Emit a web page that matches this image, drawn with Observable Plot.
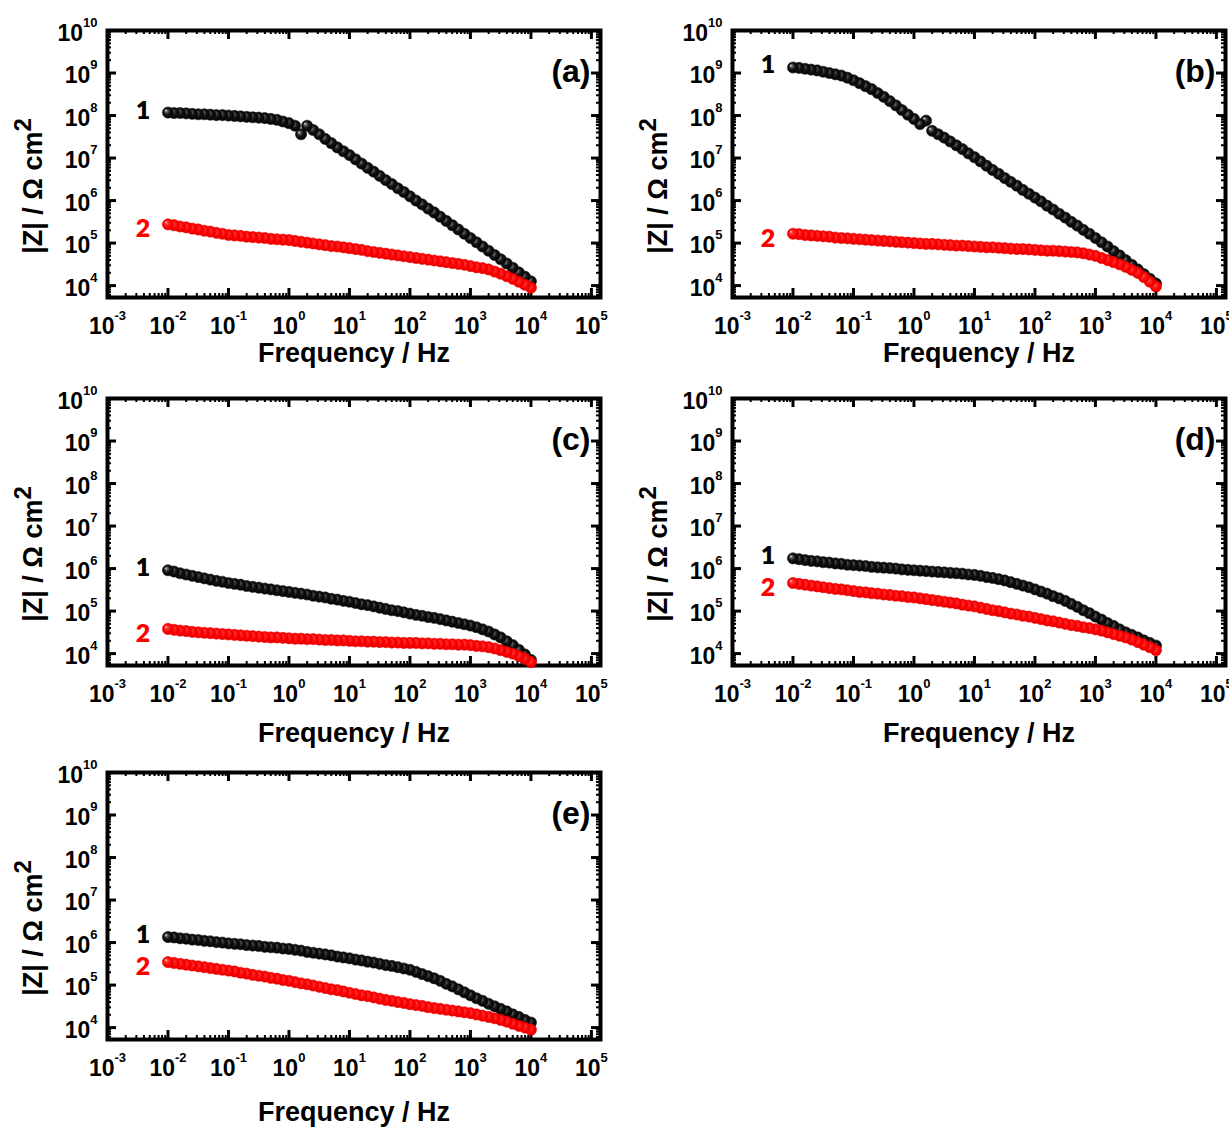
<!DOCTYPE html>
<html><head><meta charset="utf-8">
<script src="https://cdn.jsdelivr.net/npm/d3@7"></script>
<script src="https://cdn.jsdelivr.net/npm/@observablehq/plot@0.6"></script>
<style>
body{margin:0;background:#fff;overflow:hidden}
#root{position:relative;width:1229px;height:1127px;overflow:hidden;background:#fff}
.panel{position:absolute;width:620px}
.panel svg{max-width:none !important}
</style></head>
<body>
<div id="root">
<svg width="0" height="0" style="position:absolute">
<defs>
<radialGradient id="gBlack" cx="0.5" cy="0.5" r="0.5" fx="0.3" fy="0.3">
<stop offset="0" stop-color="#eeeeee"/>
<stop offset="0.22" stop-color="#6a6a6a"/>
<stop offset="0.55" stop-color="#151515"/>
<stop offset="1" stop-color="#000000"/>
</radialGradient>
<radialGradient id="gRed" cx="0.5" cy="0.5" r="0.5" fx="0.3" fy="0.3">
<stop offset="0" stop-color="#ffe0e0"/>
<stop offset="0.25" stop-color="#ff3a3a"/>
<stop offset="0.7" stop-color="#ff0000"/>
<stop offset="1" stop-color="#e00000"/>
</radialGradient>
</defs>
</svg>
</div>
<script>
// log10 of frequency (Hz)
const logF = [-2.0,-1.9,-1.8,-1.7,-1.6,-1.5,-1.4,-1.3,-1.2,-1.1,-1.0,-0.9,-0.8,-0.7,-0.6,-0.5,-0.4,-0.3,-0.2,-0.1,
  0.0,0.1,0.2,0.3,0.4,0.5,0.6,0.7,0.8,0.9,1.0,1.1,1.2,1.3,1.4,1.5,1.6,1.7,1.8,1.9,
  2.0,2.1,2.2,2.3,2.4,2.5,2.6,2.7,2.8,2.9,3.0,3.1,3.2,3.3,3.4,3.5,3.6,3.7,3.8,3.9,4.0];

// log10 |Z| (Ohm cm2), curve 1 (black) and curve 2 (red) of each panel
const a1 = [8.07,8.06,8.06,8.05,8.04,8.03,8.03,8.02,8.01,8.01,8.00,7.99,7.98,7.97,7.96,7.95,7.94,7.92,7.90,7.86,
  7.82,7.76,7.56,7.76,7.66,7.56,7.45,7.35,7.25,7.16,7.07,6.97,6.87,6.77,6.68,6.58,6.48,6.39,6.29,6.20,
  6.10,6.00,5.91,5.81,5.72,5.62,5.52,5.42,5.32,5.22,5.12,5.02,4.92,4.82,4.72,4.62,4.52,4.42,4.31,4.21,4.10];
const a2 = [5.44,5.42,5.39,5.37,5.34,5.32,5.29,5.27,5.24,5.22,5.19,5.18,5.17,5.15,5.14,5.13,5.12,5.10,5.09,5.08,
  5.07,5.05,5.03,5.01,4.99,4.97,4.95,4.93,4.92,4.90,4.88,4.86,4.84,4.81,4.79,4.77,4.75,4.73,4.71,4.69,
  4.67,4.65,4.63,4.61,4.59,4.57,4.55,4.53,4.51,4.49,4.46,4.43,4.41,4.38,4.33,4.28,4.22,4.16,4.09,4.02,3.95];
const b1 = [9.13,9.12,9.10,9.08,9.06,9.03,9.00,8.97,8.94,8.89,8.83,8.76,8.69,8.62,8.53,8.44,8.34,8.24,8.13,8.02,
  7.92,7.80,7.88,7.64,7.56,7.48,7.39,7.30,7.21,7.11,7.02,6.92,6.82,6.72,6.63,6.53,6.44,6.35,6.25,6.16,
  6.07,5.98,5.88,5.79,5.69,5.60,5.50,5.41,5.31,5.22,5.12,5.02,4.92,4.81,4.71,4.60,4.49,4.38,4.27,4.16,4.05];
const b2 = [5.22,5.21,5.19,5.18,5.17,5.16,5.15,5.13,5.12,5.11,5.10,5.09,5.08,5.07,5.06,5.05,5.04,5.03,5.02,5.01,
  5.00,4.99,4.98,4.98,4.97,4.96,4.95,4.94,4.94,4.93,4.92,4.91,4.90,4.90,4.89,4.88,4.87,4.86,4.86,4.85,
  4.84,4.83,4.82,4.82,4.81,4.80,4.79,4.78,4.76,4.73,4.70,4.65,4.60,4.55,4.50,4.44,4.37,4.30,4.20,4.09,3.98];
const c1 = [5.96,5.93,5.89,5.86,5.83,5.80,5.77,5.74,5.71,5.69,5.66,5.64,5.62,5.59,5.57,5.55,5.53,5.51,5.49,5.47,
  5.45,5.43,5.41,5.39,5.36,5.34,5.32,5.29,5.27,5.24,5.22,5.19,5.16,5.14,5.11,5.08,5.05,5.02,5.00,4.97,
  4.94,4.91,4.89,4.86,4.84,4.81,4.78,4.75,4.72,4.69,4.66,4.62,4.57,4.52,4.45,4.38,4.29,4.20,4.09,3.98,3.85];
const c2 = [4.58,4.56,4.54,4.53,4.51,4.50,4.49,4.48,4.47,4.46,4.45,4.44,4.43,4.42,4.41,4.40,4.39,4.38,4.38,4.37,
  4.36,4.35,4.35,4.34,4.34,4.33,4.32,4.32,4.31,4.31,4.30,4.29,4.29,4.28,4.28,4.27,4.27,4.26,4.26,4.25,
  4.25,4.25,4.24,4.24,4.23,4.23,4.22,4.22,4.21,4.21,4.20,4.18,4.17,4.15,4.12,4.08,4.04,4.00,3.94,3.88,3.80];
const d1 = [6.24,6.22,6.20,6.18,6.17,6.15,6.14,6.12,6.11,6.09,6.08,6.07,6.06,6.04,6.03,6.02,6.01,6.00,5.98,5.97,
  5.96,5.95,5.94,5.93,5.92,5.91,5.90,5.89,5.88,5.86,5.85,5.83,5.80,5.78,5.75,5.72,5.68,5.64,5.60,5.56,
  5.51,5.46,5.41,5.35,5.30,5.24,5.17,5.10,5.02,4.95,4.87,4.80,4.72,4.65,4.57,4.50,4.44,4.38,4.31,4.25,4.19];
const d2 = [5.66,5.64,5.62,5.60,5.58,5.56,5.54,5.52,5.51,5.49,5.47,5.45,5.44,5.42,5.41,5.39,5.38,5.36,5.35,5.33,
  5.32,5.30,5.28,5.26,5.24,5.22,5.20,5.18,5.15,5.13,5.11,5.08,5.05,5.02,5.00,4.97,4.94,4.92,4.89,4.87,
  4.84,4.81,4.78,4.76,4.73,4.70,4.67,4.65,4.62,4.60,4.57,4.54,4.50,4.46,4.42,4.38,4.33,4.27,4.21,4.15,4.08];
const e1 = [6.13,6.12,6.10,6.09,6.07,6.06,6.04,6.03,6.01,6.00,5.98,5.97,5.96,5.94,5.93,5.92,5.90,5.89,5.88,5.86,
  5.85,5.83,5.81,5.78,5.76,5.74,5.72,5.70,5.67,5.65,5.63,5.60,5.58,5.55,5.53,5.50,5.47,5.45,5.42,5.39,
  5.36,5.31,5.26,5.21,5.16,5.10,5.03,4.97,4.90,4.83,4.76,4.69,4.63,4.56,4.50,4.44,4.38,4.31,4.25,4.18,4.12];
const e2 = [5.54,5.52,5.50,5.48,5.46,5.44,5.42,5.40,5.38,5.36,5.34,5.32,5.29,5.27,5.24,5.22,5.20,5.17,5.15,5.12,
  5.10,5.07,5.04,5.02,4.99,4.96,4.93,4.90,4.88,4.85,4.82,4.79,4.76,4.74,4.71,4.68,4.65,4.63,4.60,4.58,
  4.55,4.53,4.51,4.48,4.46,4.44,4.42,4.40,4.38,4.36,4.34,4.31,4.28,4.25,4.22,4.18,4.14,4.09,4.04,4.00,3.95];

const xTickValues = [1e-3,1e-2,1e-1,1e0,1e1,1e2,1e3,1e4,1e5];
const xTickLabels = ["10^-3","10^-2","10^-1","10^0","10^1","10^2","10^3","10^4","10^5"];
const yTickValues = [1e4,1e5,1e6,1e7,1e8,1e9,1e10];
const yTickLabels = ["10^4","10^5","10^6","10^7","10^8","10^9","10^10"];
const panelLetters = ["(a)","(b)","(c)","(d)","(e)"];
const seriesNames = ["1","2"];
const xTitle = "Frequency / Hz";
const yTitle = "|Z| / Ω cm^2";

// layout (not data)
const layout = [
  {s1:a1, s2:a2, left:0,   top:0,   height:368, xTitleDy:56},
  {s1:b1, s2:b2, left:625, top:0,   height:368, xTitleDy:56},
  {s1:c1, s2:c2, left:0,   top:368, height:374, xTitleDy:68},
  {s1:d1, s2:d2, left:625, top:368, height:374, xTitleDy:68},
  {s1:e1, s2:e2, left:0,   top:742, height:385, xTitleDy:73}
];

const FONT = "'Liberation Sans', Arial, Helvetica, sans-serif";
const ML = 107, MT = 30, PW = 493, PH = 267, W = 620;
const xDomain = [1e-3, Math.pow(10, 5.15)];
const yDomain = [Math.pow(10, 3.72), 1e10];

function minorTicks(lo, hi) {
  const out = [];
  for (let k = lo; k <= hi; k++) for (let m = 2; m <= 9; m++) out.push(m * Math.pow(10, k));
  return out;
}
const xMinor = minorTicks(-3, 5).filter(v => v > xDomain[0] && v < xDomain[1]);
const yMinor = minorTicks(3, 9).filter(v => v > yDomain[0] && v < yDomain[1]);

// turn "base^exp" texts into base + raised tspan
function supify(svg) {
  svg.querySelectorAll("text").forEach(t => {
    const s = t.textContent; const i = s.indexOf("^");
    if (i < 0) return;
    const big = s.indexOf("cm") >= 0;
    t.textContent = s.slice(0, i);
    const sp = document.createElementNS("http://www.w3.org/2000/svg", "tspan");
    sp.setAttribute("dy", big ? "-11" : "-14");
    sp.setAttribute("font-size", big ? "24px" : "13px");
    sp.textContent = s.slice(i + 1);
    t.appendChild(sp);
  });
}

const root = document.getElementById("root");
layout.forEach((cfg, p) => {
  const blk = [], red = [];
  for (let i = logF.length - 1; i >= 0; i--) {
    blk.push({f: Math.pow(10, logF[i]), z: Math.pow(10, cfg.s1[i])});
    red.push({f: Math.pow(10, logF[i]), z: Math.pow(10, cfg.s2[i])});
  }
  const first1 = blk[blk.length - 1], first2 = red[red.length - 1];
  const MB = cfg.height - MT - PH;
  const tickStyle = {stroke: "black"};
  const labelFont = {fontSize: 25, fontWeight: 800, fontFamily: "Lato, 'Open Sans', sans-serif", lineAnchor: "middle", textAnchor: "middle"};
  const svg = Plot.plot({
    width: W, height: cfg.height,
    marginLeft: ML, marginTop: MT, marginRight: W - ML - PW, marginBottom: MB,
    style: {background: "transparent", overflow: "visible", maxWidth: "none"},
    x: {type: "log", domain: xDomain, axis: null},
    y: {type: "log", domain: yDomain, axis: null},
    marks: [
      // minor ticks
      Plot.tickX(xMinor, {x: d => d, insetTop: PH - 4, strokeWidth: 2, ...tickStyle}),
      Plot.tickX(xMinor, {x: d => d, insetBottom: PH - 4, strokeWidth: 2, ...tickStyle}),
      Plot.tickY(yMinor, {y: d => d, insetRight: PW - 4, strokeWidth: 2, ...tickStyle}),
      Plot.tickY(yMinor, {y: d => d, insetLeft: PW - 4, strokeWidth: 2, ...tickStyle}),
      // major ticks
      Plot.tickX(xTickValues, {x: d => d, insetTop: PH - 9, strokeWidth: 3, ...tickStyle}),
      Plot.tickX(xTickValues, {x: d => d, insetBottom: PH - 9, strokeWidth: 3, ...tickStyle}),
      Plot.tickY(yTickValues, {y: d => d, insetRight: PW - 9, strokeWidth: 3, ...tickStyle}),
      Plot.tickY(yTickValues, {y: d => d, insetLeft: PW - 9, strokeWidth: 3, ...tickStyle}),
      Plot.frame({stroke: "black", strokeWidth: 4}),
      // data
      Plot.dot(blk, {x: "f", y: "z", r: 5.6, fill: "url(#gBlack)", stroke: "#1a1a1a", strokeWidth: 0.6}),
      Plot.dot(red, {x: "f", y: "z", r: 5.6, fill: "url(#gRed)", stroke: "#ee0000", strokeWidth: 0.6}),
      // series labels
      Plot.text([first1], {x: "f", y: "z", text: () => seriesNames[0], dx: -25, dy: -2, fill: "black", ...labelFont}),
      Plot.text([first2], {x: "f", y: "z", text: () => seriesNames[1], dx: -25, dy: 5, fill: "#ff0000", ...labelFont}),
      // panel letter
      Plot.text([panelLetters[p]], {frameAnchor: "top-right", text: d => d, dx: -10, dy: 41, textAnchor: "end",
        lineAnchor: "middle", fontSize: 32, fontWeight: "bold", fontFamily: FONT, fill: "black"}),
      // tick labels
      Plot.text(xTickValues, {x: d => d, text: (d, i) => xTickLabels[i], frameAnchor: "bottom", dy: 29,
        textAnchor: "middle", lineAnchor: "middle", fontSize: 23, fontWeight: "bold", fontFamily: FONT, fill: "black"}),
      Plot.text(yTickValues, {y: d => d, text: (d, i) => yTickLabels[i], frameAnchor: "left", dx: -10, dy: 3,
        textAnchor: "end", lineAnchor: "middle", fontSize: 23, fontWeight: "bold", fontFamily: FONT, fill: "black"}),
      // axis titles
      Plot.text([xTitle], {text: d => d, frameAnchor: "bottom", dy: cfg.xTitleDy, textAnchor: "middle", lineAnchor: "middle",
        fontSize: 27, fontWeight: "bold", fontFamily: FONT, fill: "black"}),
      Plot.text([yTitle], {text: d => d, frameAnchor: "left", dx: -74, dy: 22, rotate: -90, textAnchor: "middle",
        lineAnchor: "middle", fontSize: 27, fontWeight: "bold", fontFamily: FONT, fill: "black"})
    ]
  });
  supify(svg);
  const div = document.createElement("div");
  div.className = "panel";
  div.style.left = cfg.left + "px";
  div.style.top = cfg.top + "px";
  div.appendChild(svg);
  root.appendChild(div);
});
</script>
</body></html>
